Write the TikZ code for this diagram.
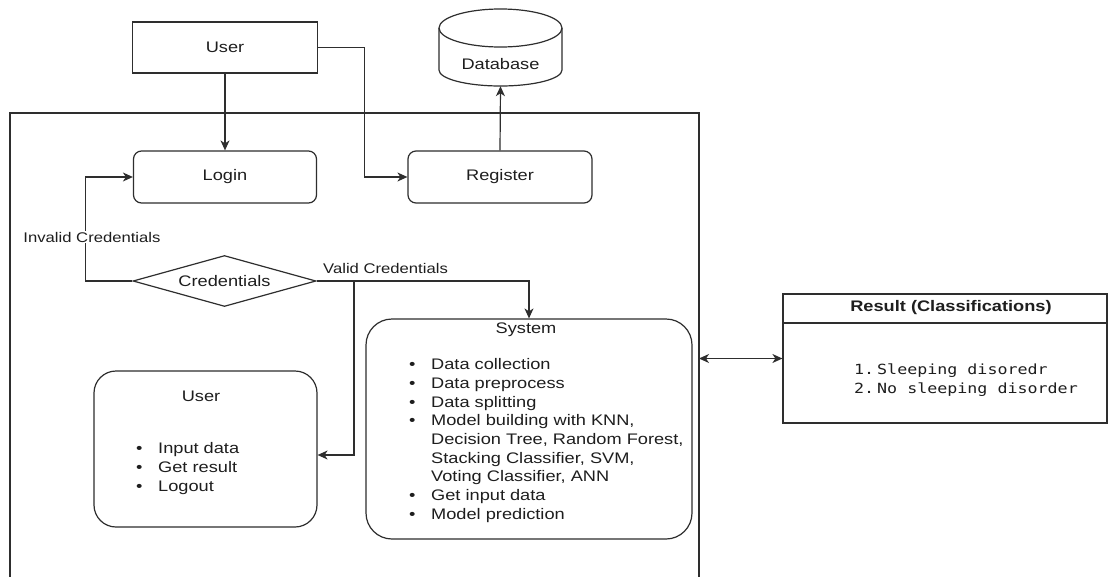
\documentclass[tikz,border=0pt]{standalone}
\usepackage{fontspec}
\setmainfont[FakeStretch=1.19]{Liberation Sans}
\setmonofont[FakeStretch=1.19]{DejaVu Sans Mono}
\usetikzlibrary{arrows.meta,shapes.geometric}
\definecolor{ln}{HTML}{2E2E2E}
\definecolor{tx}{HTML}{1E1E1E}
\begin{document}
\begin{tikzpicture}[x=1pt,y=-1pt,
  every node/.style={text=tx,font=\fontsize{15.3}{18.7}\selectfont},
  conn/.style={draw=ln,line width=1.2pt},
  arr/.style={conn,-{Stealth[length=10pt,width=9pt,inset=3pt]}},
  darr/.style={conn,{Stealth[length=10pt,width=9pt,inset=3pt]}-{Stealth[length=10pt,width=9pt,inset=3pt]}},
  sqbox/.style={draw=ln,line width=1.2pt,rectangle,inner sep=0pt},
  rbox/.style={sqbox,rounded corners=8pt},
  bigbox/.style={sqbox,rounded corners=22pt},
  lbl/.style={fill=white,inner sep=1pt,font=\fontsize{14}{17}\selectfont},
  listtxt/.style={anchor=north west,inner sep=0pt,align=left}
]
\useasboundingbox (0,0) rectangle (1109,576);
\fill[white] (0,0) rectangle (1109,576);

% outer frame (bottom edge lies below the page)
\draw[draw=ln,line width=1.2pt] (10,590) -- (10,113) -- (699,113) -- (699,590);
\coordinate (frameR) at (699,358.5);

% top user
\node[sqbox,minimum width=185pt,minimum height=51pt] (usertop) at (225,47.5) {User};

% database cylinder
\node[inner sep=0pt,minimum width=123pt,minimum height=77pt] (db) at (500.5,47.5) {};
\draw[draw=ln,line width=1.2pt,fill=white] (439,28) -- (439,70)
  arc[start angle=180,end angle=0,x radius=61.5,y radius=16] -- (562,28);
\draw[draw=ln,line width=1.2pt] (500.5,28) ellipse [x radius=61.5,y radius=19];
\node (dblabel) at (500.5,64) {Database};

% login / register
\node[rbox,minimum width=183pt,minimum height=52pt] (login) at (225,177) {Login};
\node[rbox,minimum width=184pt,minimum height=52pt] (reg) at (500,177) {Register};

% credentials diamond
\node[diamond,aspect=3.6,draw=ln,line width=1.2pt,inner sep=0pt,
      minimum width=183pt,minimum height=51pt] (cred) at (224.5,281) {Credentials};

% user (inner)
\node[bigbox,minimum width=223pt,minimum height=156pt] (user2) at (205.5,449) {};
\node (u2title) at (201,396) {User};
\node[listtxt] (u2list) at (136,440.4) {%
  \begin{tabular}{@{}p{22pt}@{}l@{}}
  \textbullet & Input data\\
  \textbullet & Get result\\
  \textbullet & Logout
  \end{tabular}};

% system
\node[bigbox,rounded corners=26pt,minimum width=326pt,minimum height=220pt] (sys) at (529,429) {};
\node (systitle) at (526,330) {System};
\node[listtxt] (syslist) at (409,356.4) {%
  \begin{tabular}{@{}p{22pt}@{}l@{}}
  \textbullet & Data collection\\
  \textbullet & Data preprocess\\
  \textbullet & Data splitting\\
  \textbullet & Model building with KNN,\\
   & Decision Tree, Random Forest,\\
   & Stacking Classifier, SVM,\\
   & Voting Classifier, ANN\\
  \textbullet & Get input data\\
  \textbullet & Model prediction
  \end{tabular}};

% result
\node[sqbox,minimum width=324pt,minimum height=129pt] (res) at (945,358.5) {};
\draw[draw=ln,line width=1.2pt] (res.west |- 0,323) -- (res.east |- 0,323);
\node[font=\bfseries\fontsize{15.3}{18.7}\selectfont] (restitle) at (951,308) {Result (Classifications)};
\node[listtxt,font=\ttfamily\fontsize{14}{19}\selectfont] (reslist) at (854,360.7) {%
  \begin{tabular}{@{}p{23pt}@{}l@{}}
  1. & Sleeping disoredr\\
  2. & No sleeping disorder
  \end{tabular}};

% connectors
\draw[arr] (usertop.south) -- (login.north);
\draw[arr] (usertop.east) -- ++(46,0) |- (reg.west);
\draw[arr] (reg.north) -- (db.south);
\draw[arr] (cred.west) -- ++(-47,0) |- (login.west);
\draw[arr] (cred.east) -| (sys.north);
\coordinate (vb) at (354,281);
\draw[arr] (vb) |- ([yshift=-6pt]user2.east);
\draw[darr] (frameR) -- (res.west);

% labels
\node[lbl] (invalid) at (92,237) {Invalid Credentials};
\node[lbl,anchor=west,fill=none] (valid) at (322,268) {Valid Credentials};
\end{tikzpicture}
\end{document}
